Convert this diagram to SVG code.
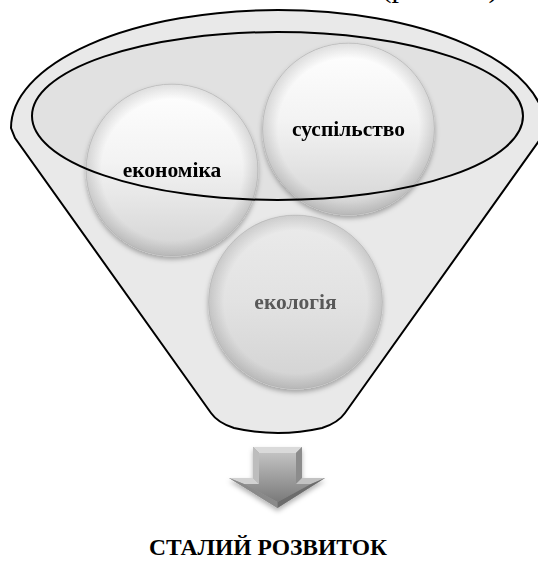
<svg xmlns="http://www.w3.org/2000/svg" width="538" height="565" viewBox="0 0 538 565">
  <style>
    .lbl { font-family: "Liberation Serif", "Times New Roman", serif; font-weight: bold; text-anchor: middle; }
    .ball { font-size: 21.5px; fill: #000; }
    .title { font-size: 23.5px; fill: #000; }
    .outline { fill: none; stroke: #000; stroke-width: 2; }
  </style>
  <defs>
    <linearGradient id="gWhite" x1="0" y1="0" x2="0" y2="1">
      <stop offset="0" stop-color="#ffffff"/>
      <stop offset="0.45" stop-color="#f3f3f3"/>
      <stop offset="1" stop-color="#d3d3d3"/>
    </linearGradient>
    <linearGradient id="gGray" x1="0" y1="0" x2="0" y2="1">
      <stop offset="0" stop-color="#ebebeb"/>
      <stop offset="0.5" stop-color="#e2e2e2"/>
      <stop offset="1" stop-color="#d2d2d2"/>
    </linearGradient>
    <radialGradient id="gRim" cx="0.5" cy="0.5" r="0.5">
      <stop offset="0.82" stop-color="#000" stop-opacity="0"/>
      <stop offset="1" stop-color="#000" stop-opacity="0.13"/>
    </radialGradient>
    <linearGradient id="gArrow" x1="0" y1="0" x2="0" y2="1">
      <stop offset="0" stop-color="#c2c2c2"/>
      <stop offset="1" stop-color="#7a7a7a"/>
    </linearGradient>
    <filter id="shadow" x="-20%" y="-20%" width="140%" height="145%">
      <feDropShadow dx="0" dy="3" stdDeviation="2.5" flood-color="#000" flood-opacity="0.3"/>
    </filter>
  </defs>

  <text x="440" y="-3" style="font-family: 'Liberation Serif', serif; font-size: 30px; text-anchor: middle;">(рис. 1.1)</text>

  <g id="funnel">
    <path d="M 11,128 A 267 118 0 0 1 545 128 L 541,138 L 345,413 Q 338,423 322,428 Q 278,438 234,428 Q 218,423 211,413 L 15,138 Z" fill="#e9e9e9" stroke="#000" stroke-width="2"/>
    <ellipse cx="277.5" cy="116" rx="245.5" ry="84" fill="#e1e1e1"/>
  </g>

  <g id="node-ekonomika" filter="url(#shadow)">
    <circle cx="172" cy="170" r="86" fill="url(#gWhite)" stroke="#c4c4c4" stroke-width="0.8"/>
    <circle cx="172" cy="170" r="86" fill="url(#gRim)"/>
    <text class="lbl ball" x="172" y="177">економіка</text>
  </g>

  <g id="node-suspilstvo" filter="url(#shadow)">
    <circle cx="348.5" cy="129" r="86" fill="url(#gWhite)" stroke="#c4c4c4" stroke-width="0.8"/>
    <circle cx="348.5" cy="129" r="86" fill="url(#gRim)"/>
    <text class="lbl ball" x="348.5" y="136">суспільство</text>
  </g>

  <g id="node-ekolohiia" filter="url(#shadow)">
    <circle cx="295.5" cy="302" r="87" fill="url(#gGray)" stroke="#c8c8c8" stroke-width="0.8"/>
    <circle cx="295.5" cy="302" r="87" fill="url(#gRim)"/>
    <text class="lbl ball" x="295.5" y="309" style="fill:#595959">екологія</text>
  </g>

  <g id="ring">
    <ellipse class="outline" cx="277.5" cy="116" rx="245.5" ry="84"/>
  </g>

  <g id="connectors">
    <g filter="url(#shadow)">
      <polygon points="253,447 302,447 302,478 325,478 277.5,508 229,478 253,478" fill="#999"/>
      <polygon points="259,453 296,453 296,484 311,484 277.5,502 244,484 259,484" fill="url(#gArrow)"/>
      <polygon points="253,447 302,447 296,453 259,453" fill="#dadada"/>
      <polygon points="253,447 259,453 259,484 253,478" fill="#bdbdbd"/>
      <polygon points="302,447 302,478 296,484 296,453" fill="#8c8c8c"/>
      <polygon points="253,478 229,478 244,484 259,484" fill="#d2d2d2"/>
      <polygon points="302,478 325,478 311,484 296,484" fill="#c2c2c2"/>
      <polygon points="229,478 277.5,508 277.5,502 244,484" fill="#8a8a8a"/>
      <polygon points="325,478 277.5,508 277.5,502 311,484" fill="#6c6c6c"/>
    </g>
  </g>

  <g id="node-title">
    <text class="lbl title" x="268" y="555">СТАЛИЙ РОЗВИТОК</text>
  </g>
</svg>
